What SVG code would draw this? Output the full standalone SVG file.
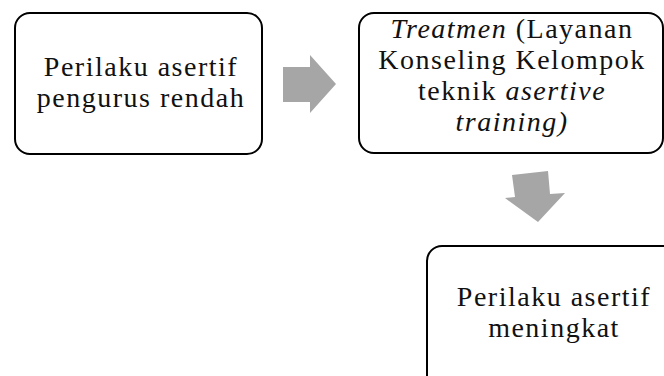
<svg xmlns="http://www.w3.org/2000/svg" width="664" height="376" viewBox="0 0 664 376">
<style>
.box{fill:#fff;stroke:#000;stroke-width:2}
.t{font-family:"Liberation Serif","Times New Roman",serif;font-size:28px;letter-spacing:1.5px;fill:#111;text-anchor:middle}
.i{font-style:italic}
.arrow{fill:#a6a6a6}
</style>
<rect width="664" height="376" fill="#fff"/>
<g id="node1">
<rect class="box" x="15" y="13" width="247" height="141" rx="15"/>
<text class="t" x="141" y="76">Perilaku asertif</text>
<text class="t" x="141" y="107">pengurus rendah</text>
</g>
<g id="node2">
<rect class="box" x="359" y="13" width="304" height="140" rx="15"/>
<text class="t" x="512" y="38"><tspan class="i">Treatmen</tspan> (Layanan</text>
<text class="t" x="512" y="69">Konseling Kelompok</text>
<text class="t" x="512" y="100">teknik <tspan class="i">asertive</tspan></text>
<text class="t i" x="512" y="131">training)</text>
</g>
<g id="node3">
<rect class="box" x="427" y="246" width="253" height="150" rx="15"/>
<text class="t" x="554" y="306">Perilaku asertif</text>
<text class="t" x="554" y="337">meningkat</text>
</g>
<g id="connectors">
<polygon class="arrow" points="283,67 310,67 310,55 336,84 310,113 310,102 283,102"/>
<polygon class="arrow" points="512,175 548,171 550,194 565,193 538,222 505,198 515,197"/>
</g>
</svg>
